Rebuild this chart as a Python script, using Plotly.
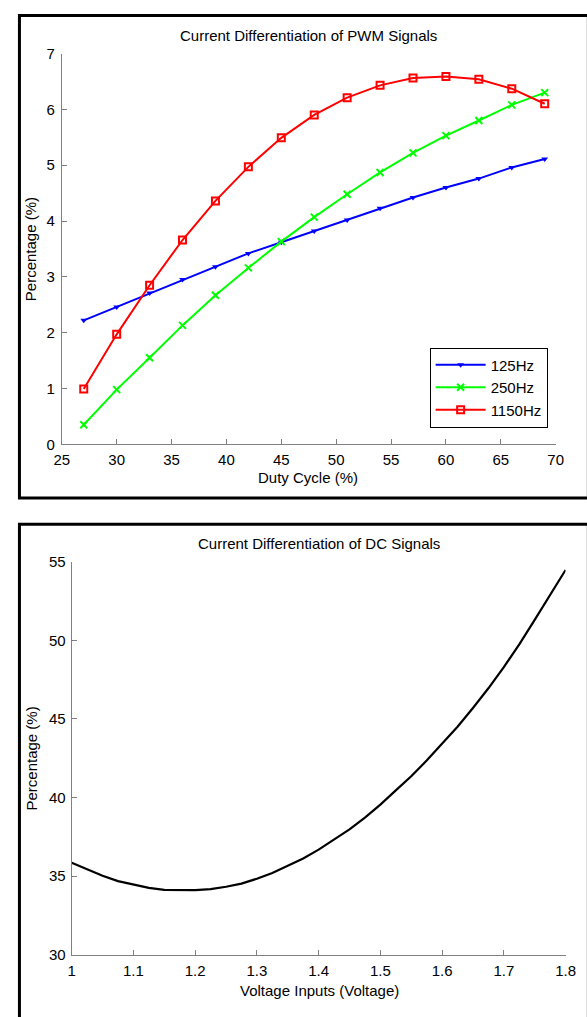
import plotly.graph_objects as go

# ---------------- data ----------------
duty_cycle = [27, 30, 33, 36, 39, 42, 45, 48, 51, 54, 57, 60, 63, 66, 69]
pct_125hz = [2.22, 2.46, 2.71, 2.95, 3.18, 3.42, 3.62, 3.82, 4.02, 4.23, 4.42, 4.60, 4.76, 4.96, 5.11]
pct_250hz = [0.35, 0.98, 1.55, 2.13, 2.67, 3.16, 3.63, 4.07, 4.48, 4.87, 5.22, 5.53, 5.80, 6.08, 6.30]
pct_1150hz = [0.99, 1.97, 2.85, 3.66, 4.36, 4.97, 5.49, 5.90, 6.21, 6.43, 6.56, 6.59, 6.54, 6.37, 6.10]

voltage = [1.000, 1.025, 1.050, 1.075, 1.100, 1.125, 1.150, 1.175, 1.200, 1.225, 1.250,
           1.275, 1.300, 1.325, 1.350, 1.375, 1.400, 1.425, 1.450, 1.475, 1.500, 1.525,
           1.550, 1.575, 1.600, 1.625, 1.650, 1.675, 1.700, 1.725, 1.750, 1.775, 1.800]
pct_dc = [35.85, 35.45, 35.02, 34.68, 34.45, 34.25, 34.12, 34.10, 34.10, 34.17, 34.32,
          34.52, 34.83, 35.20, 35.65, 36.12, 36.68, 37.30, 37.97, 38.72, 39.55, 40.45,
          41.35, 42.35, 43.40, 44.50, 45.70, 46.95, 48.30, 49.75, 51.30, 52.85, 54.48]

top_xticks = [25, 30, 35, 40, 45, 50, 55, 60, 65, 70]
top_yticks = [0, 1, 2, 3, 4, 5, 6, 7]
bot_xticks = [1.0, 1.1, 1.2, 1.3, 1.4, 1.5, 1.6, 1.7, 1.8]
bot_xticklabels = ["1", "1.1", "1.2", "1.3", "1.4", "1.5", "1.6", "1.7", "1.8"]
bot_yticks = [30, 35, 40, 45, 50, 55]

# ---------------- layout helpers ----------------
W, H = 587, 1017
FONT = "Liberation Sans, Arial, sans-serif"
FS = 15


def px(x):
    return x / W


def py(y):
    return 1 - y / H


fig = go.Figure()

fig.add_trace(go.Scatter(x=duty_cycle, y=pct_125hz, name="125Hz", mode="lines+markers",
                         line=dict(color="#0000ff", width=2),
                         marker=dict(symbol="triangle-down", size=6, color="#0000ff"),
                         xaxis="x", yaxis="y"))
fig.add_trace(go.Scatter(x=duty_cycle, y=pct_250hz, name="250Hz", mode="lines+markers",
                         line=dict(color="#00ff00", width=2),
                         marker=dict(symbol="x-thin-open", size=7, color="#00ff00",
                                     line=dict(color="#00ff00", width=2)),
                         xaxis="x", yaxis="y"))
fig.add_trace(go.Scatter(x=duty_cycle, y=pct_1150hz, name="1150Hz", mode="lines+markers",
                         line=dict(color="#ff0000", width=2),
                         marker=dict(symbol="square-open", size=7, color="#ff0000",
                                     line=dict(color="#ff0000", width=2)),
                         xaxis="x", yaxis="y"))
fig.add_trace(go.Scatter(x=voltage, y=pct_dc, mode="lines", showlegend=False,
                         line=dict(color="#000000", width=2.2),
                         xaxis="x2", yaxis="y2"))

axis_common = dict(showline=True, linecolor="#808080", linewidth=1, ticks="inside",
                   ticklen=5, tickcolor="#808080", showgrid=False, zeroline=False,
                   tickfont=dict(family=FONT, size=FS, color="#000000"), mirror=False)

fig.update_layout(
    width=W, height=H,
    margin=dict(l=0, r=0, t=0, b=0),
    paper_bgcolor="white", plot_bgcolor="white",
    font=dict(family=FONT, size=FS, color="#000000"),
    xaxis=dict(domain=[px(55.5), px(565)], range=[25, 70], tickvals=top_xticks,
               anchor="y", ticklabelstandoff=2, **axis_common),
    yaxis=dict(domain=[py(442.7), py(45.3)], range=[0, 7], tickvals=top_yticks,
               anchor="x", ticklabelstandoff=3, **axis_common),
    xaxis2=dict(domain=[px(65.7), px(575.2)], range=[1, 1.8], tickvals=bot_xticks,
                ticktext=bot_xticklabels, anchor="y2", ticklabelstandoff=2, **axis_common),
    yaxis2=dict(domain=[py(961.7), py(562.2)], range=[30, 55], tickvals=bot_yticks,
                anchor="x2", ticklabelstandoff=2, **axis_common),
    legend=dict(x=px(556.7), y=py(344.3), xanchor="right", yanchor="top",
                bgcolor="white", bordercolor="#000000", borderwidth=1,
                itemwidth=50,
                font=dict(family=FONT, size=FS, color="#000000"), tracegroupgap=0),
    showlegend=True,
)

# panel frames
fig.add_shape(type="rect", xref="paper", yref="paper", x0=px(11.8), x1=1.02,
              y0=py(497.3), y1=py(6.5), line=dict(color="#000000", width=3),
              fillcolor="rgba(0,0,0,0)", layer="below")
fig.add_shape(type="rect", xref="paper", yref="paper", x0=px(11.8), x1=1.02,
              y0=-0.02, y1=py(524), line=dict(color="#000000", width=3),
              fillcolor="rgba(0,0,0,0)", layer="below")

labels = [
    ("Current Differentiation of PWM Signals", 310, 26.7, 0),
    ("Duty Cycle (%)", 310, 476.7, 0),
    ("Percentage (%)", 24, 244, -90),
    ("Current Differentiation of DC Signals", 321, 543.3, 0),
    ("Voltage Inputs (Voltage)", 321, 998, 0),
    ("Percentage (%)", 24, 762, -90),
]
for text, x, y, ang in labels:
    fig.add_annotation(text=text, xref="paper", yref="paper", x=px(x), y=py(y),
                       xanchor="center", yanchor="middle", showarrow=False,
                       textangle=ang, font=dict(family=FONT, size=FS, color="#000000"))

fig.write_html("out.html",
               config={"displayModeBar": False, "staticPlot": True},
               post_script="document.body.style.margin='0';document.body.style.overflow='hidden';")
